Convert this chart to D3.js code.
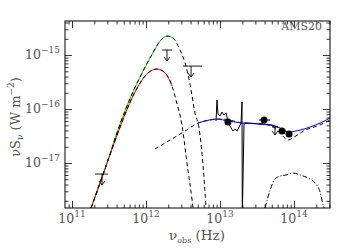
<!DOCTYPE html>
<html lang='en'>
<head>
<meta charset='UTF-8'>
<script src='https://d3js.org/d3.v7.min.js'></script>
<title>AMS20 SED</title>
<style>
  body { margin: 0; background: #fff; }
  text { font-family: 'DejaVu Serif', serif; fill: #555; }
</style>
</head>
<body>
<svg id='sed' width='350' height='250'></svg>
<script>
// all values: [frequency (Hz), nu*S_nu (W m^-2)]
let coldHi = [[1.81e11,1.47e-18],[2.88e11,8.8e-18],[4.45e11,5.27e-17],[6.47e11,1.9e-16],[8.83e11,4.64e-16],
  [1.21e12,1.04e-15],[1.55e12,1.82e-15],[1.92e12,2.25e-15],[2.32e12,2.07e-15],[2.88e12,1.24e-15],
  [3.37e12,7.11e-16],[3.93e12,2.9e-16],[4.59e12,8.43e-17],[5.2e12,4.45e-17],[5.89e12,9.19e-18],[6.47e12,1.47e-18]]
let coldLo = [[1.81e11,1.47e-18],[2.88e11,8.8e-18],[4.74e11,5.74e-17],[6.47e11,1.6e-16],[8.3e11,3.03e-16],
  [1.06e12,4.64e-16],[1.41e12,5.5e-16],[1.81e12,4.64e-16],[2.25e12,2.67e-16],[2.54e12,1.47e-16],
  [3.06e12,5.05e-17],[3.58e12,1.0e-17],[4.19e12,2.07e-18],[4.32e12,1.47e-18]]
let torus = [[1.32e12,1.82e-17],[1.81e12,2.35e-17],[2.47e12,3.03e-17],[3.37e12,3.91e-17],[5.04e12,5.5e-17],
  [7.32e12,6.25e-17],[1.06e13,6.53e-17],[2.05e13,5.5e-17],[3.81e13,5.27e-17],[5.04e13,4.84e-17],
  [6.47e13,3.59e-17],[8.3e13,2.67e-17],[1.03e14,3.1e-17],[1.41e14,4.08e-17],[2.05e14,4.84e-17],[3.06e14,6.25e-17]]
let total = [[5.04e12,5.5e-17],[6.27e12,6.0e-17],[9.1e12,6.53e-17],[1.28e13,6.0e-17],[2.05e13,5.5e-17],
  [3.81e13,5.27e-17],[5.04e13,5.05e-17],[6.47e13,4.45e-17],[8.3e13,3.75e-17],[1.21e14,4.08e-17],
  [1.64e14,4.64e-17],[2.25e14,5.5e-17],[3.06e14,6.81e-17]]
let stars = [[4.06e13,1.47e-18],[4.74e13,3.16e-18],[5.53e13,5.05e-18],[6.47e13,5.74e-18],[7.8e13,6.0e-18],
  [9.69e13,6.53e-18],[1.21e14,6.0e-18],[1.55e14,5.27e-18],[1.92e14,4.26e-18],[2.25e14,2.9e-18],
  [2.47e14,1.67e-18],[2.54e14,1.47e-18]]
let irs = [[8.83e12,6.0e-17],[9.1e12,1.47e-16],[9.39e12,8.07e-17],[1.0e13,7.42e-17],[1.06e13,8.8e-17],
  [1.13e13,7.74e-17],[1.21e13,8.43e-17],[1.24e13,7.11e-17],[1.32e13,5.27e-17],[1.41e13,4.45e-17],
  [1.5e13,3.91e-17],[1.6e13,4.26e-17],[1.7e13,3.91e-17],[1.81e13,4.64e-17],[1.92e13,5.5e-17],
  [1.98e13,1.35e-16],[2.0e13,1.0e-18],[2.11e13,5.5e-17],[2.54e13,5.5e-17],[3.47e13,5.27e-17],
  [4.74e13,5.05e-17],[6.08e13,4.64e-17]]
// photometry: freq, flux, freq band low/high
let photNu = [1.28e13, 3.93e13, 6.88e13, 8.56e13]
let photFlux = [5.74e-17, 6.25e-17, 3.91e-17, 3.44e-17]
let photLo = [1.28e13, 3.37e13, 6.88e13, 8.56e13]
let photHi = [1.28e13, 4.74e13, 6.88e13, 8.56e13]
// upper limits
let limNu = [2.54e11, 1.92e12, 4.06e12, 5.53e13]
let limFlux = [6.25e-18, 1.24e-15, 6.25e-16, 4.64e-17]
let limLo = [2.05e11, 1.64e12, 3.16e12, 5.04e13]
let limHi = [3.06e11, 2.25e12, 5.71e12, 6.08e13]
// ticks
let xTicks = [1e11, 1e12, 1e13, 1e14]
let xExps = ['11', '12', '13', '14']
let yTicks = [1e-17, 1e-16, 1e-15]
let yExps = ['\u221217', '\u221216', '\u221215']

let L = 65, R = 330, T = 21, B = 208
let x = d3.scaleLog().domain([8.04e10, 3.06e14]).range([L, R])
let y = d3.scaleLog().domain([1.47e-18, 4.27e-15]).range([B, T])

let svg = d3.select('#sed')
svg.append('defs').append('clipPath').attr('id', 'clip')
  .append('rect').attr('x', L).attr('y', T).attr('width', R - L).attr('height', B - T)

let smooth = d3.line().x(d => x(d[0])).y(d => y(d[1])).curve(d3.curveMonotoneX)
let straight = d3.line().x(d => x(d[0])).y(d => y(d[1]))

let plot = svg.append('g').attr('clip-path', 'url(#clip)')

function draw(data, gen, color, dash) {
  plot.append('path').attr('d', gen(data))
    .attr('fill', 'none').attr('stroke', color).attr('stroke-width', 1)
    .attr('stroke-dasharray', dash || null)
}

// cold dust components: coloured line with black dashes on top
draw(coldHi.filter(d => d[0] <= 2.4e12), smooth, '#00e000')
draw(coldHi, smooth, '#000', '4,3')
draw(coldLo.filter(d => d[0] <= 2.5e12), smooth, '#ff0000')
draw(coldLo, smooth, '#000', '4,3')
draw(torus, smooth, '#000', '4,3')
draw(irs, straight, '#000')
draw(total, smooth, '#0000ff')
draw(stars, smooth, '#000', '5,2,1,2')

// photometry with band widths
photNu.forEach((nu, i) => {
  plot.append('line').attr('x1', x(photLo[i])).attr('x2', x(photHi[i]))
    .attr('y1', y(photFlux[i])).attr('y2', y(photFlux[i])).attr('stroke', '#000')
  plot.append('circle').attr('cx', x(nu)).attr('cy', y(photFlux[i])).attr('r', 3.5).attr('fill', '#000')
})

// upper limits: bar and down arrow
limNu.forEach((nu, i) => {
  let cx = x(nu), cy = y(limFlux[i]), len = i == 3 ? 8 : 11
  plot.append('path')
    .attr('d', `M${x(limLo[i])},${cy}H${x(limHi[i])}M${cx},${cy}V${cy + len}M${cx - 3},${cy + len - 4}L${cx},${cy + len}L${cx + 3},${cy + len - 4}`)
    .attr('fill', 'none').attr('stroke', '#000').attr('stroke-width', 0.9)
})

// axes, ticks pointing inwards on all four sides
let xMinor = x.ticks().filter(v => !xTicks.some(t => Math.abs(t - v) / t < 1e-6))
let yMinor = y.ticks().filter(v => !yTicks.some(t => Math.abs(t - v) / t < 1e-6))

function axis(gen, scale, vals, size, tx, ty) {
  let g = svg.append('g').attr('transform', `translate(${tx},${ty})`)
    .call(gen(scale).tickValues(vals).tickSize(-size).tickSizeOuter(0).tickFormat(''))
  g.select('.domain').remove()
  g.selectAll('line').attr('stroke', '#000').attr('stroke-width', 0.8)
  g.selectAll('text').remove()
}
axis(d3.axisBottom, x, xTicks, 7, 0, B)
axis(d3.axisBottom, x, xMinor, 3.5, 0, B)
axis(d3.axisTop, x, xTicks, 7, 0, T)
axis(d3.axisTop, x, xMinor, 3.5, 0, T)
axis(d3.axisLeft, y, yTicks, 7, L, 0)
axis(d3.axisLeft, y, yMinor, 3.5, L, 0)
axis(d3.axisRight, y, yTicks, 7, R, 0)
axis(d3.axisRight, y, yMinor, 3.5, R, 0)

svg.append('rect').attr('x', L).attr('y', T).attr('width', R - L).attr('height', B - T)
  .attr('fill', 'none').attr('stroke', '#000').attr('stroke-width', 1)

// tick labels as 10^n
xTicks.forEach((v, i) => {
  let t = svg.append('text').attr('x', x(v)).attr('y', 223).attr('text-anchor', 'middle').attr('font-size', 12.5)
  t.append('tspan').text('10')
  t.append('tspan').attr('dy', -6).attr('font-size', 9).text(xExps[i])
})
yTicks.forEach((v, i) => {
  let t = svg.append('text').attr('x', 60).attr('y', y(v) + 4).attr('text-anchor', 'end').attr('font-size', 12.5)
  t.append('tspan').text('10')
  t.append('tspan').attr('dy', -6).attr('font-size', 9).text(yExps[i])
})

// axis titles
let xt = svg.append('text').attr('x', 197).attr('y', 240).attr('text-anchor', 'middle').attr('font-size', 13.5)
xt.append('tspan').text('\u03bd')
xt.append('tspan').attr('dy', 3).attr('font-size', 8).text('obs')
xt.append('tspan').attr('dy', -3).text(' (Hz)')

let yt = svg.append('text').attr('transform', 'translate(20,117) rotate(-90)')
  .attr('text-anchor', 'middle').attr('font-size', 13)
yt.append('tspan').text('\u03bdS')
yt.append('tspan').attr('dy', 3).attr('font-size', 9).text('\u03bd')
yt.append('tspan').attr('dy', -3).text(' (W m')
yt.append('tspan').attr('dy', -6).attr('font-size', 9).text('\u22122')
yt.append('tspan').attr('dy', 6).text(')')

svg.append('text').attr('x', 322).attr('y', 30).attr('text-anchor', 'end').attr('font-size', 11).text('AMS20')
</script>
</body>
</html>
